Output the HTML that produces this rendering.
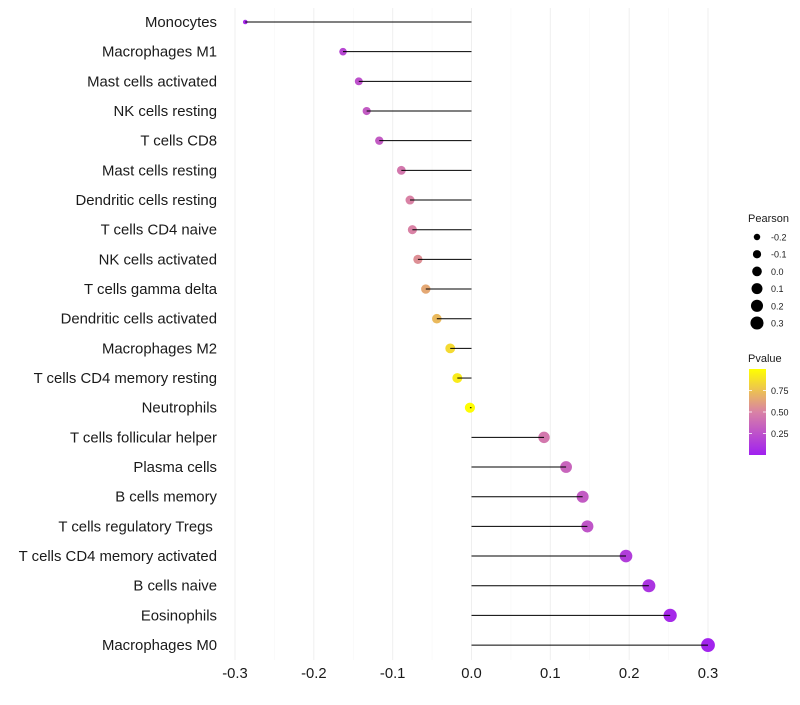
<!DOCTYPE html>
<html><head><meta charset="utf-8"><style>
body{margin:0;background:#fff;font-family:"Liberation Sans",sans-serif}
</style></head><body>
<svg id="chart" width="800" height="700" xmlns="http://www.w3.org/2000/svg"></svg>
<script>
const categories=["Monocytes","Macrophages M1","Mast cells activated","NK cells resting","T cells CD8","Mast cells resting","Dendritic cells resting","T cells CD4 naive","NK cells activated","T cells gamma delta","Dendritic cells activated","Macrophages M2","T cells CD4 memory resting","Neutrophils","T cells follicular helper","Plasma cells","B cells memory","T cells regulatory  Tregs\u00a0","T cells CD4 memory activated","B cells naive","Eosinophils","Macrophages M0"];
const pearson=[-0.287,-0.163,-0.143,-0.133,-0.117,-0.089,-0.078,-0.075,-0.068,-0.058,-0.044,-0.027,-0.018,-0.002,0.092,0.120,0.141,0.147,0.196,0.225,0.252,0.300];
const pvalue=[0.05,0.2,0.25,0.3,0.3,0.45,0.5,0.5,0.55,0.65,0.72,0.85,0.92,0.99,0.45,0.35,0.3,0.27,0.15,0.1,0.05,0.02];
const xTicks=[-0.3,-0.2,-0.1,0.0,0.1,0.2,0.3];
const xTickLabels=["-0.3","-0.2","-0.1","0.0","0.1","0.2","0.3"];
const sizeLegend=[-0.2,-0.1,0.0,0.1,0.2,0.3];
const sizeLegendLabels=["-0.2","-0.1","0.0","0.1","0.2","0.3"];
const pTicks=[0.25,0.5,0.75];
const pTickLabels=["0.25","0.50","0.75"];

const svg=document.getElementById('chart');
const NS="http://www.w3.org/2000/svg";
function mk(t,a,p){const e=document.createElementNS(NS,t);for(const k in a)e.setAttribute(k,a[k]);(p||svg).appendChild(e);return e;}
const xs=v=>471.5+v*788.3;
const ys=i=>22+i*29.67;
const rs=v=>Math.max(1.5,Math.sqrt(Math.max(0,26+72*v)));
function col(p){
  const stops=[[0,[160,32,240]],[0.5,[217,130,165]],[1,[255,255,0]]];
  p=Math.max(0,Math.min(1,p));
  let a=stops[0],b=stops[1];if(p>0.5){a=stops[1];b=stops[2];}
  const t=(p-a[0])/(b[0]-a[0]);
  return 'rgb('+a[1].map((c,k)=>Math.round(c+(b[1][k]-c)*t)).join(',')+')';
}
for(let v=-0.3;v<=0.301;v+=0.05){
  const major=Math.abs(Math.round(v*100))%10===0;
  const g=mk('line',{x1:xs(v),x2:xs(v),y1:8,y2:660,stroke:major?'#efefef':'#f6f6f6','stroke-width':major?1:0.6});
  
  
}
xTicks.forEach((v,i)=>{
  const t=mk('text',{x:xs(v),y:678,'text-anchor':'middle','font-size':14.8,fill:'#1a1a1a'});
  t.textContent=xTickLabels[i];
  
  
});
categories.forEach((c,i)=>{
  const y=ys(i);
  const t=mk('text',{x:217,y:y+5,'text-anchor':'end','font-size':14.9,fill:'#1a1a1a'});
  t.textContent=c;
  
  
  const d=mk('circle',{cx:xs(pearson[i]),cy:y,r:rs(pearson[i]),fill:col(pvalue[i])});
  
  
  const l=mk('line',{x1:xs(0),x2:xs(pearson[i]),y1:y,y2:y,stroke:'#000','stroke-width':1});
  
  
});
const st=mk('text',{x:748,y:222,'font-size':11,fill:'#1a1a1a'});st.textContent='Pearson';


sizeLegend.forEach((v,i)=>{
  const y=237+i*17.2;
  const c=mk('circle',{cx:757,cy:y,r:rs(v)*0.95,fill:'#000'});
  
  
  const t=mk('text',{x:771,y:y+3.5,'font-size':9,fill:'#1a1a1a'});t.textContent=sizeLegendLabels[i];
  
  
});
const ct=mk('text',{x:748,y:362,'font-size':11,fill:'#1a1a1a'});ct.textContent='Pvalue';


const defs=mk('defs',{});
const lg=mk('linearGradient',{id:'pg',x1:0,y1:1,x2:0,y2:0},defs);
[0,0.25,0.5,0.75,1].forEach(p=>mk('stop',{offset:p,'stop-color':col(p)},lg));
const bar=mk('rect',{x:749,y:369,width:17,height:86,fill:'url(#pg)'});


pTicks.forEach((p,i)=>{
  const y=455-p*86;
  mk('line',{x1:749,x2:752,y1:y,y2:y,stroke:'#fff','stroke-width':0.8});
  mk('line',{x1:763,x2:766,y1:y,y2:y,stroke:'#fff','stroke-width':0.8});
  const t=mk('text',{x:771,y:y+3.5,'font-size':9,fill:'#1a1a1a'});t.textContent=pTickLabels[i];
  
  
});
</script>
</body></html>
